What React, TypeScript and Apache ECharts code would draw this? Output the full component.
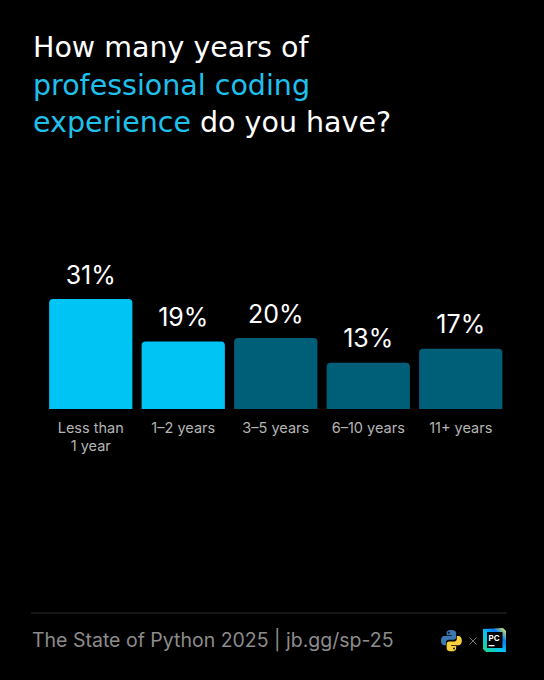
import React, { useEffect, useRef } from "react";
import * as echarts from "echarts";

const categories = ["Less than\n1 year", "1–2 years", "3–5 years", "6–10 years", "11+ years"];
const values = [31, 19, 20, 13, 17];
const barColors = ["#00c4f4", "#00c4f4", "#005f78", "#005f78", "#005f78"];

const FONT = "Inter, 'Noto Sans', sans-serif";
const TITLE_FONT = "'DejaVu Sans', Inter, sans-serif";

const pyBlue =
  "M12 1 C8 1 7 2.5 7 4 V6.5 H12.3 V7.3 H4.5 C2.5 7.3 1 9 1 12 C1 15 2.5 16.8 4.5 16.8 H6.3 V14 C6.3 12.3 7.7 11 9.4 11 H14.6 C16 11 17 10 17 8.6 V4 C17 2.5 15.5 1 12 1 Z";
const pyYellow =
  "M12 23 C16 23 17 21.5 17 20 V17.5 H11.7 V16.7 H19.5 C21.5 16.7 23 15 23 12 C23 9 21.5 7.2 19.5 7.2 H17.7 V10 C17.7 11.7 16.3 13 14.6 13 H9.4 C8 13 7 14 7 15.4 V20 C7 21.5 8.5 23 12 23 Z";

let registered = false;
function registerShapes() {
  if (registered) return;
  echarts.graphic.registerShape("pyBlue", echarts.graphic.extendPath(pyBlue, {}));
  echarts.graphic.registerShape("pyYellow", echarts.graphic.extendPath(pyYellow, {}));
  registered = true;
}

export default function App() {
  const ref = useRef<HTMLDivElement>(null);
  useEffect(() => {
    document.body.style.margin = "0";
    document.body.style.background = "#000";
    registerShapes();
    const chart = echarts.init(ref.current!, undefined, { renderer: "svg" });
    chart.setOption({
      animation: false,
      backgroundColor: "#000000",
      title: {
        left: 33,
        top: 29,
        padding: 0,
        text: "{w|How many years of}\n{c|professional coding}\n{c|experience}{w| do you have?}",
        textStyle: {
          fontWeight: "normal",
          rich: {
            w: { color: "#ffffff", fontSize: 28.5, lineHeight: 37.5, fontFamily: TITLE_FONT, fontWeight: "normal" },
            c: { color: "#1fc0ec", fontSize: 28.5, lineHeight: 37.5, fontFamily: TITLE_FONT, fontWeight: "normal" },
          },
        },
      },
      grid: { left: 44.5, right: 37, top: 299, bottom: 271 },
      xAxis: {
        type: "category",
        data: categories,
        axisLine: { show: false },
        axisTick: { show: false },
        axisLabel: {
          color: "#b4b4b4",
          fontSize: 14.5,
          lineHeight: 18,
          margin: 9,
          fontFamily: FONT,
          interval: 0,
        },
      },
      yAxis: {
        type: "value",
        min: 0,
        max: 31,
        show: false,
        splitLine: { show: false },
      },
      series: [
        {
          type: "bar",
          barCategoryGap: "10%",
          data: values.map((v, i) => ({ value: v, itemStyle: { color: barColors[i] } })),
          itemStyle: { borderRadius: [4, 4, 0, 0] },
          label: {
            show: true,
            position: "top",
            distance: 12,
            formatter: "{c}%",
            color: "#ffffff",
            fontSize: 25,
            fontFamily: FONT,
          },
        },
      ],
      graphic: [
        {
          type: "line",
          shape: { x1: 31, y1: 613, x2: 507, y2: 613 },
          style: { stroke: "#2a2a2a", lineWidth: 1 },
        },
        {
          type: "text",
          left: 32,
          top: 630,
          style: {
            text: "The State of Python 2025 | jb.gg/sp-25",
            fill: "#8c8c8c",
            font: `19.5px ${FONT}`,
          },
        },
        {
          type: "group",
          x: 440,
          y: 629,
          scaleX: 0.95,
          scaleY: 0.97,
          children: [
            { type: "pyBlue", style: { fill: "#3b77b0" } },
            { type: "pyYellow", style: { fill: "#f7cf3f" } },
            { type: "circle", shape: { cx: 9.3, cy: 3.9, r: 0.9 }, style: { fill: "#000" } },
            { type: "circle", shape: { cx: 14.7, cy: 20.1, r: 0.9 }, style: { fill: "#000" } },
          ],
        },
        {
          type: "line",
          shape: { x1: 469.5, y1: 637.5, x2: 476.5, y2: 644.5 },
          style: { stroke: "#777777", lineWidth: 1 },
        },
        {
          type: "line",
          shape: { x1: 476.5, y1: 637.5, x2: 469.5, y2: 644.5 },
          style: { stroke: "#777777", lineWidth: 1 },
        },
        {
          type: "polygon",
          shape: {
            points: [
              [483, 629],
              [503, 628],
              [506, 631],
              [506, 652],
              [486, 652],
              [483, 649],
            ],
          },
          style: {
            fill: new echarts.graphic.LinearGradient(0, 1, 1, 0, [
              { offset: 0, color: "#21d789" },
              { offset: 0.45, color: "#07c3f2" },
              { offset: 0.7, color: "#087cfa" },
              { offset: 1, color: "#fcf84a" },
            ]),
          },
        },
        {
          type: "rect",
          shape: { x: 487, y: 632, width: 15.5, height: 16 },
          style: { fill: "#000000" },
        },
        {
          type: "text",
          x: 488.5,
          y: 638,
          style: {
            text: "PC",
            fill: "#ffffff",
            font: `bold 8px ${FONT}`,
            verticalAlign: "middle",
          },
        },
        {
          type: "rect",
          shape: { x: 488.5, y: 645, width: 6, height: 1.3 },
          style: { fill: "#ffffff" },
        },
      ],
    });
    return () => chart.dispose();
  }, []);
  return (
    <div
      ref={ref}
      style={{ position: "fixed", left: 0, top: 0, width: 544, height: 680, background: "#000" }}
    />
  );
}
